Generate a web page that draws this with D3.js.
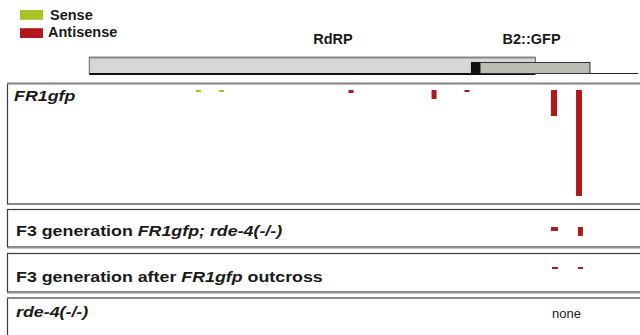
<!DOCTYPE html>
<html>
<head>
<meta charset="utf-8">
<script src="https://cdn.jsdelivr.net/npm/d3@7"></script>
<style>
  html, body { margin: 0; padding: 0; background: #fff; }
  svg { display: block; }
  text { font-family: "Liberation Sans", Arial, sans-serif; }
</style>
</head>
<body>
<svg id="chart" width="640" height="335"></svg>
<script>
// ---------------- DATA ----------------
// Legend
const legendNames = ["Sense", "Antisense"];
const legendColors = ["#a9c226", "#b2171c"];

// Genome map (nucleotide coordinates)
const genomeLength = 3831;
const featureNames = ["RdRP", "B2::GFP"];
const featureStart = [402, 2844];
const featureEnd = [3190, 3531];
const featureLabelAt = [1925, 3166];
const junctionBlock = [2787, 2844];

// Panels (label segments: [text, italic])
const panelLabels = [
  [["FR1gfp", true]],
  [["F3 generation ", false], ["FR1gfp; rde-4(-/-)", true]],
  [["F3 generation after ", false], ["FR1gfp", true], [" outcross", false]],
  [["rde-4(-/-)", true]]
];
const panelNote = ["", "", "", "none"];

// small RNA clusters per panel: strand, start nt, end nt, abundance
const panel1Strand = ["sense", "sense", "antisense", "antisense", "antisense", "antisense", "antisense"];
const panel1Start  = [1069, 1213, 2022, 2541, 2747, 3287, 3444];
const panel1End    = [1100, 1244, 2053, 2572, 2778, 3325, 3481];
const panel1Value  = [2, 2, 3, 9, 2, 26, 106];

const panel2Strand = ["antisense", "antisense"];
const panel2Start  = [3287, 3456];
const panel2End    = [3331, 3487];
const panel2Value  = [4, 9];

const panel3Strand = ["antisense", "antisense"];
const panel3Start  = [3294, 3456];
const panel3End    = [3331, 3487];
const panel3Value  = [2, 2];

const panel4Strand = [];
const panel4Start  = [];
const panel4End    = [];
const panel4Value  = [];

// ---------------- LAYOUT ----------------
const svg = d3.select("#chart");
const x = d3.scaleLinear().domain([0, 4000]).range([25, 665]);
const h = d3.scaleLinear().domain([0, 100]).range([0, 100]);
const color = d3.scaleOrdinal().domain(["sense", "antisense"]).range(legendColors);

// Legend
const leg = svg.append("g");
legendNames.forEach((n, i) => {
  leg.append("rect").attr("x", 20).attr("y", 10 + i * 18.2).attr("width", 23).attr("height", 9.8)
    .attr("fill", legendColors[i]);
  leg.append("text").attr("x", i === 0 ? 50 : 48).attr("y", 20 + i * 17)
    .attr("font-size", 14.5).attr("font-weight", 700).attr("fill", "#1a1a1a").text(n);
});

// Genome map
const gm = svg.append("g");
gm.append("rect").attr("x", x(featureStart[0])).attr("y", 57.5)
  .attr("width", x(featureEnd[0]) - x(featureStart[0])).attr("height", 16)
  .attr("fill", "#d8d6d8").attr("stroke", "#666").attr("stroke-width", 1);
gm.append("line").attr("x1", x(featureStart[0])).attr("x2", x(featureEnd[0]))
  .attr("y1", 57.5).attr("y2", 57.5).attr("stroke", "#888").attr("stroke-width", 2);
gm.append("line").attr("x1", x(featureStart[0])).attr("x2", x(featureEnd[0]))
  .attr("y1", 74).attr("y2", 74).attr("stroke", "#111").attr("stroke-width", 2);
gm.append("line").attr("x1", x(featureEnd[1])).attr("x2", x(genomeLength))
  .attr("y1", 73.5).attr("y2", 73.5).attr("stroke", "#222").attr("stroke-width", 1);
gm.append("rect").attr("x", x(featureStart[1])).attr("y", 62.5)
  .attr("width", x(featureEnd[1]) - x(featureStart[1])).attr("height", 11)
  .attr("fill", "#bbbcb4").attr("stroke", "#333").attr("stroke-width", 1);
gm.append("rect").attr("x", x(junctionBlock[0])).attr("y", 62)
  .attr("width", x(junctionBlock[1]) - x(junctionBlock[0])).attr("height", 12)
  .attr("fill", "#111");
featureNames.forEach((n, i) => {
  gm.append("text").attr("x", x(featureLabelAt[i])).attr("y", 43.5)
    .attr("text-anchor", "middle").attr("font-size", 14.5).attr("font-weight", 700)
    .attr("fill", "#1a1a1a").text(n);
});

// Panels
const panelTop = [83.5, 209.5, 253.5, 298];
const panelBottom = [204, 247, 292, 350];
const barOffset = [7, 18, 14, 0];
const panelBars = [
  [panel1Strand, panel1Start, panel1End, panel1Value],
  [panel2Strand, panel2Start, panel2End, panel2Value],
  [panel3Strand, panel3Start, panel3End, panel3Value],
  [panel4Strand, panel4Start, panel4End, panel4Value]
];
const labelBaseline = [101, 236, 281.5, 316.5];

panelLabels.forEach((segs, i) => {
  const g = svg.append("g");
  g.append("rect").attr("x", 7.5).attr("y", panelTop[i]).attr("width", 700)
    .attr("height", panelBottom[i] - panelTop[i])
    .attr("fill", "#fff").attr("stroke", "#3a3a3a").attr("stroke-width", 1.2);
  if (i === 0 || i === 3) {
    g.append("line").attr("x1", 7).attr("x2", 640).attr("y1", panelTop[i]).attr("y2", panelTop[i])
      .attr("stroke", "#8a8a8a").attr("stroke-width", 2.2);
  }
  if (i === 1 || i === 2) {
    g.append("line").attr("x1", 7).attr("x2", 640).attr("y1", panelBottom[i] + 1.2).attr("y2", panelBottom[i] + 1.2)
      .attr("stroke", "#aaa").attr("stroke-width", 1);
  }
  const t = g.append("text")
    .attr("transform", `translate(${i === 0 ? 14 : 16},${labelBaseline[i]}) scale(1.15,1)`)
    .attr("font-size", 15.5).attr("font-weight", 700).attr("fill", "#1a1a1a");
  segs.forEach(s => {
    t.append("tspan").attr("font-style", s[1] ? "italic" : "normal").text(s[0]);
  });
  if (panelNote[i]) {
    g.append("text").attr("x", 552).attr("y", 317.5).attr("font-size", 13)
      .attr("fill", "#222").text(panelNote[i]);
  }
  const [st, s0, s1, v] = panelBars[i];
  const top = panelTop[i] + barOffset[i] - 0.5;
  g.selectAll("rect.bar").data(v.map((d, k) => ({strand: st[k], a: s0[k], b: s1[k], v: d})))
    .enter().append("rect").attr("class", "bar")
    .attr("x", d => x(d.a)).attr("width", d => x(d.b) - x(d.a))
    .attr("y", top).attr("height", d => h(d.v))
    .attr("fill", d => color(d.strand));
});
</script>
</body>
</html>
